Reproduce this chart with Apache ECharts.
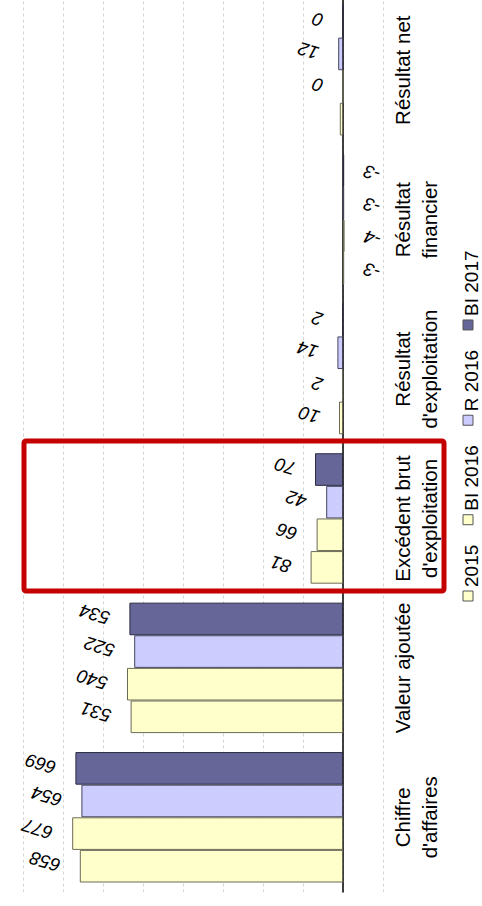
<!DOCTYPE html>
<html>
<head>
<meta charset="utf-8">
<script src="https://cdn.jsdelivr.net/npm/echarts@6/dist/echarts.min.js"></script>
<style>
  html, body { margin: 0; padding: 0; background: #fff; }
  #chart { width: 482px; height: 906px; }
</style>
</head>
<body>
<div id="chart"></div>
<script>
// Categories (drawn bottom to top) and the four yearly series, in millions
const categories = [
  "Chiffre\nd'affaires",
  "Valeur ajoutée",
  "Excédent brut\nd'exploitation",
  "Résultat\nd'exploitation",
  "Résultat\nfinancier",
  "Résultat net"
];
const seriesNames = ["2015", "BI 2016", "R 2016", "BI 2017"];
const values2015   = [658, 531, 81, 10, -3, 8];
const valuesBI2016 = [677, 540, 66, 2, -4, 0];
const valuesR2016  = [654, 522, 42, 14, -3, 12];
const valuesBI2017 = [669, 534, 70, 2, -3, 0];
// value points whose label is not printed: [series index, category index]
const unlabeled = [[0, 5]];
// value axis range and step
const axisMin = -100, axisMax = 900, axisStep = 100;
// category highlighted with a frame
const highlighted = "Excédent brut\nd'exploitation";

const seriesValues = [values2015, valuesBI2016, valuesR2016, valuesBI2017];
const fills = ["#FFFFCC", "#FFFFCC", "#CCCCFF", "#666699"];
const borders = ["#6b6b55", "#6b6b55", "#44445e", "#2a2a40"];
const FONT = "'Liberation Sans', Arial, sans-serif";

const chart = echarts.init(document.getElementById('chart'), null, { renderer: 'svg' });

function buildData(si) {
  return seriesValues[si].map(function (v, ci) {
    const item = { value: v };
    const hide = unlabeled.some(function (p) { return p[0] === si && p[1] === ci; });
    if (hide) {
      item.label = { show: false };
    } else if (v < 0) {
      item.label = { position: 'right', align: 'right' };
    }
    return item;
  });
}

// horizontal bars stack their series top-down, so list the last year first
// to have 2015 sit at the bottom of each group
const series = seriesNames.map(function (name, si) {
  return {
    name: name,
    type: 'bar',
    barGap: '0%',
    barCategoryGap: '12.7%',
    data: buildData(si),
    itemStyle: { color: fills[si], borderColor: borders[si], borderWidth: 1 },
    label: {
      show: true,
      position: 'left',
      distance: 20,
      rotate: 163,
      align: 'left',
      verticalAlign: 'middle',
      fontFamily: FONT,
      fontSize: 18.5,
      fontStyle: 'italic',
      color: '#000'
    },
    emphasis: { disabled: true },
    animation: false
  };
}).reverse();

chart.setOption({
  backgroundColor: '#fff',
  animation: false,
  grid: { left: -17, right: 99, top: -4.5, bottom: 14, containLabel: false, outerBoundsMode: 'none' },
  xAxis: {
    type: 'value',
    inverse: true,
    min: axisMin,
    max: axisMax,
    interval: axisStep,
    axisLabel: { show: false },
    axisLine: { show: false },
    axisTick: { show: false },
    splitLine: { show: true, lineStyle: { color: '#d4d4d4', type: [3, 3], width: 1 } }
  },
  yAxis: {
    type: 'category',
    position: 'right',
    data: categories,
    axisLine: { show: true, onZero: true, lineStyle: { color: '#000', width: 1.5 } },
    axisTick: { show: false },
    splitLine: { show: false },
    axisLabel: {
      interval: 0,
      hideOverlap: false,
      rotate: 90,
      margin: 6,
      fontFamily: FONT,
      fontSize: 20.5,
      lineHeight: 27,
      color: '#000'
    }
  },
  series: series
});

// Legend: drawn as a rotated column of swatches and names, read bottom to top
(function () {
  const ctx = document.createElement('canvas').getContext('2d');
  const legendFont = '19px ' + FONT;
  ctx.font = legendFont;
  const elements = [];
  let c = 596;               // centre of the first swatch
  const sq = 10, gapText = 4, itemGap = 20;
  seriesNames.forEach(function (name, i) {
    const w = ctx.measureText(name).width;
    elements.push({
      type: 'rect',
      shape: { x: 463, y: c - sq / 2, width: sq, height: sq },
      style: { fill: fills[i], stroke: '#555', lineWidth: 1 },
      silent: true
    });
    elements.push({
      type: 'text',
      x: 471.5,
      y: c - sq / 2 - gapText,
      rotation: Math.PI / 2,
      style: { text: name, x: 0, y: 0, align: 'left', verticalAlign: 'middle',
               font: legendFont, fill: '#000' },
      silent: true
    });
    c = c - sq / 2 - gapText - w - itemGap - sq / 2;
  });

  // Frame around the highlighted category
  const yc = chart.convertToPixel({ yAxisIndex: 0 }, highlighted);
  elements.push({
    type: 'rect',
    shape: { x: 24, y: yc - 77.5, width: 420, height: 150, r: 2 },
    style: { fill: 'none', stroke: '#c40000', lineWidth: 5 },
    z: 100,
    silent: true
  });
  chart.setOption({ graphic: elements });
})();
</script>
</body>
</html>
